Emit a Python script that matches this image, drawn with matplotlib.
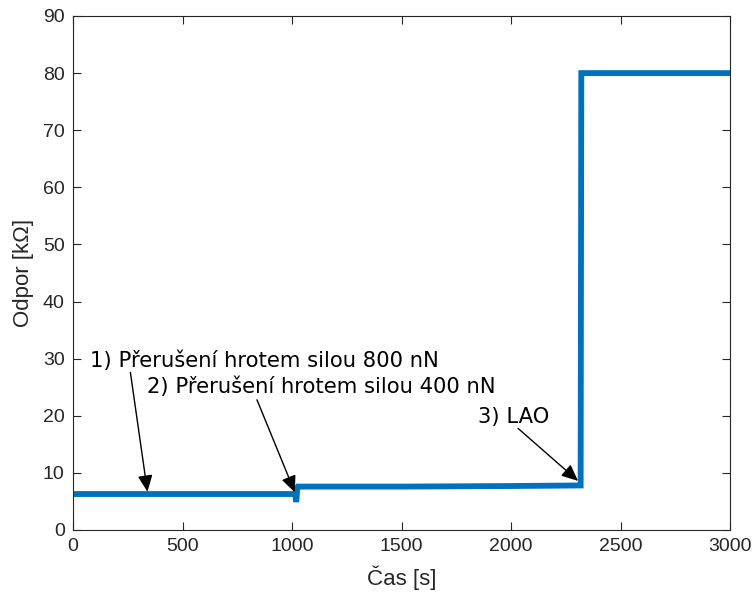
import matplotlib.pyplot as plt

# step-like resistance trace
cas = [0, 500, 1015, 1019, 1021, 1024, 1027, 1500, 2000, 2318, 2321, 2500, 3000]
odpor = [6.3, 6.3, 6.3, 4.9, 5.6, 7.4, 7.6, 7.6, 7.7, 7.8, 80.0, 80.0, 80.0]

# annotations: text, text position (baseline, data), arrow tail, arrow tip
popisky = ["1) Přerušení hrotem silou 800 nN",
           "2) Přerušení hrotem silou 400 nN",
           "3) LAO"]
text_xy = [(76, 28.6), (340, 24.0), (1850, 18.7)]
tail_xy = [(262, 27.6), (840, 22.8), (2032, 17.8)]
tip_xy = [(340, 6.7), (1013, 6.6), (2306, 8.6)]

plt.rcParams['font.family'] = ['Liberation Sans', 'DejaVu Sans']
fig = plt.figure(figsize=(7.52, 5.93), dpi=100)
ax = fig.add_axes([73 / 752, 63 / 593, 657 / 752, 514 / 593])

ax.plot(cas, odpor, color='#0072BD', lw=4.2, solid_joinstyle='miter')

for txt, pos, tail, tip in zip(popisky, text_xy, tail_xy, tip_xy):
    ax.text(pos[0], pos[1], txt, fontsize=15.2, family='DejaVu Sans',
            va='baseline', ha='left', color='black')
    ax.annotate('', xy=tip, xytext=tail,
                arrowprops=dict(arrowstyle='-|>,head_length=1.0,head_width=0.45',
                                color='black', lw=1, shrinkA=0, shrinkB=0))

ax.set_xlim(0, 3000)
ax.set_ylim(0, 90)
ax.set_xticks(range(0, 3001, 500))
ax.set_yticks(range(0, 91, 10))
ax.set_xlabel('Čas [s]', fontsize=16, color='#262626', labelpad=7)
ax.set_ylabel('Odpor [kΩ]', fontsize=16, color='#262626', labelpad=6)
ax.tick_params(direction='in', length=6, width=0.8, labelsize=14,
               colors='#262626', top=True, right=True, pad=6)
for s in ax.spines.values():
    s.set_color('#262626')
    s.set_linewidth(0.8)

fig.savefig('out.png', dpi=100)
